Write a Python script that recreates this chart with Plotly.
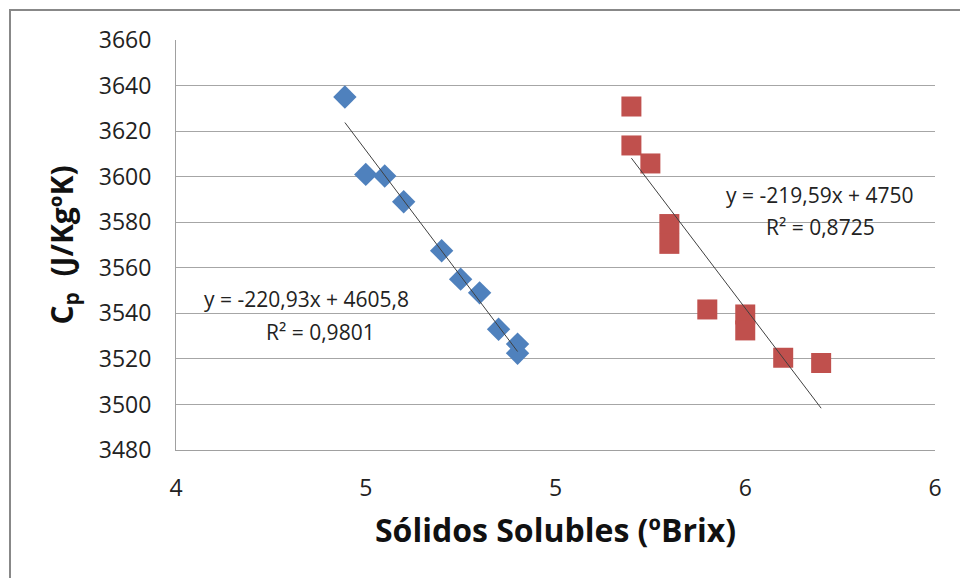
import numpy as np
import plotly.graph_objects as go

# Data
blue_x = [4.445, 4.50, 4.55, 4.60, 4.70, 4.75, 4.80, 4.85, 4.90, 4.90]
blue_y = [3635.0, 3601.0, 3600.3, 3589.0, 3567.5, 3555.0, 3549.0, 3533.0, 3526.5, 3522.5]
red_x = [5.20, 5.20, 5.25, 5.30, 5.30, 5.40, 5.50, 5.50, 5.60, 5.70]
red_y = [3630.8, 3613.7, 3605.8, 3579.2, 3570.5, 3541.7, 3539.5, 3532.5, 3520.5, 3518.2]

blue_fit = (-220.93, 4605.8)
red_fit = (-219.59, 4750.0)
blue_eq = ["y = -220,93x + 4605,8", "R² = 0,9801"]
red_eq = ["y = -219,59x + 4750", "R² = 0,8725"]

x_ticks = [4, 4.5, 5, 5.5, 6]
x_ticktext = ["4", "5", "5", "6", "6"]

FONT = "Open Sans"
BLUE = "#4F81BD"
RED = "#C0504D"

fig = go.Figure()

fig.add_trace(go.Scatter(x=blue_x, y=blue_y, mode="markers",
                         marker=dict(symbol="diamond", size=18, color=BLUE, line=dict(width=0)),
                         showlegend=False))
fig.add_trace(go.Scatter(x=red_x, y=red_y, mode="markers",
                         marker=dict(symbol="square", size=20, color=RED, line=dict(width=0)),
                         showlegend=False))

for xs, (m, b) in [(blue_x, blue_fit), (red_x, red_fit)]:
    lx = np.array([min(xs), max(xs)])
    fig.add_trace(go.Scatter(x=lx, y=m * lx + b, mode="lines",
                             line=dict(color="#404040", width=1), showlegend=False,
                             hoverinfo="skip"))

# Plot area in pixels: left 176, right 935, top 40, bottom 450
def px(xp):
    return (xp - 176) / 759.0

def py(yp):
    return (450 - yp) / 410.0

ann = [
    (306, 299, blue_eq[0]), (320, 332, blue_eq[1]),
    (820, 195, red_eq[0]), (820, 227, red_eq[1]),
]
for xp, yp, t in ann:
    fig.add_annotation(x=px(xp), y=py(yp), xref="paper", yref="paper", text=t,
                       showarrow=False, xanchor="center", yanchor="middle",
                       font=dict(family=FONT, size=21, color="#222222"))

fig.update_layout(
    width=960, height=578,
    margin=dict(l=176, r=25, t=40, b=128),
    paper_bgcolor="white", plot_bgcolor="white",
    font=dict(family=FONT, color="#222222"),
    xaxis=dict(range=[4, 6], tickvals=x_ticks, ticktext=x_ticktext,
               showgrid=False, zeroline=False, showline=True, linecolor="#A0A0A0",
               linewidth=1, ticks="", tickfont=dict(size=23, family=FONT, color="#222222"),
               ticklabelstandoff=17,
               title=dict(text="<b>Sólidos Solubles (ºBrix)</b>",
                          font=dict(size=32, family=FONT, color="#111111"), standoff=18)),
    yaxis=dict(range=[3480, 3660], dtick=20, showgrid=True, gridcolor="#A6A6A6",
               gridwidth=1, zeroline=False, showline=True, linecolor="#A0A0A0",
               linewidth=1, ticks="", tickfont=dict(size=23, family=FONT, color="#222222"),
               ticklabelstandoff=19,
               title=dict(text="<b>C<sub>p</sub>  (J/KgºK)</b>",
                          font=dict(size=30, family=FONT, color="#111111"), standoff=16)),
)

# chart-area border (only left and top are visible in the reference)
fig.add_shape(type="rect", xref="paper", yref="paper",
              x0=px(10), x1=px(975), y0=py(595), y1=py(10),
              line=dict(color="#888888", width=2), layer="below")

fig.write_html("out.html")
